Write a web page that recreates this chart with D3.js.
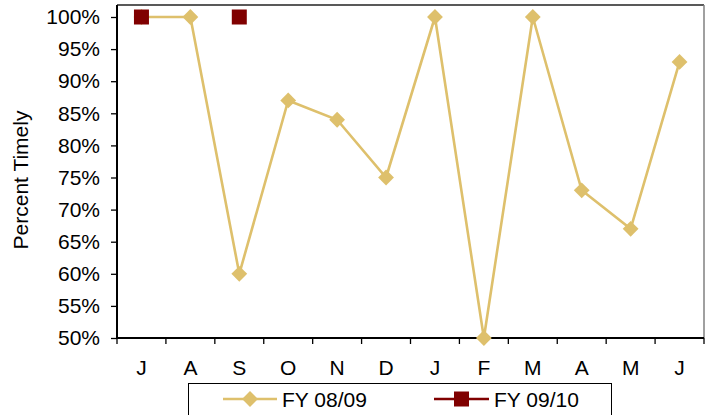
<!DOCTYPE html>
<html><head><meta charset="utf-8">
<script src="https://cdn.jsdelivr.net/npm/d3@7"></script>
<style>body{margin:0;background:#fff}svg{display:block;font-family:Arial,"Liberation Sans",sans-serif}</style>
</head><body><svg id="c" width="710" height="415"></svg>
<script>
const months = ["J","A","S","O","N","D","J","F","M","A","M","J"];
const fy0809 = [100,100,60,87,84,75,100,50,100,73,67,93];
const fy0910 = [100,null,100,null,null,null,null,null,null,null,null,null];
const yTicks = [50,55,60,65,70,75,80,85,90,95,100];
const seriesNames = ["FY 08/09","FY 09/10"];
const colors = ["#DEC06C","#800000"];
const FS = 21;

const svg = d3.select("#c");
const L=117, R=704, T=5, B=338;
const x = d3.scaleBand().domain(d3.range(months.length)).range([L,R]);
const y = d3.scaleLinear().domain([50,100]).range([B,17]);

// frame
svg.append("line").attr("x1",L).attr("x2",R).attr("y1",T).attr("y2",T).attr("stroke","#222").attr("stroke-width",1.5);
svg.append("line").attr("x1",R).attr("x2",R).attr("y1",T).attr("y2",B).attr("stroke","#808080").attr("stroke-width",1.5);

const yAxis = svg.append("g").attr("transform",`translate(${L},0)`)
  .call(d3.axisLeft(y).tickValues(yTicks).tickSize(6).tickPadding(11).tickFormat(d=>d+"%"));
yAxis.select(".domain").attr("stroke","#000").attr("stroke-width",2).attr("d",`M0,${T}V${B}`);
yAxis.selectAll(".tick line").attr("stroke","#000").attr("stroke-width",1.3);
yAxis.selectAll("text").attr("font-size",FS).attr("fill","#000").attr("font-family","Arial, Liberation Sans, sans-serif");

const xAxis = svg.append("g").attr("transform",`translate(0,${B})`)
  .call(d3.axisBottom(x).tickFormat(i=>months[i]).tickSize(0).tickPadding(22));
xAxis.select(".domain").attr("stroke","#000").attr("stroke-width",2).attr("d",`M${L},0H${R}`);
xAxis.selectAll("text").attr("font-size",FS).attr("fill","#000").attr("font-family","Arial, Liberation Sans, sans-serif");
// category boundary ticks
svg.append("g").selectAll("line").data(d3.range(months.length+1)).join("line")
  .attr("x1",i=>L+i*x.step()).attr("x2",i=>L+i*x.step())
  .attr("y1",B).attr("y2",B+6).attr("stroke","#000").attr("stroke-width",1.3);

// axis title
svg.append("text").attr("transform","translate(28,180) rotate(-90)").attr("text-anchor","middle")
  .attr("font-size",FS).attr("fill","#000").text("Percent Timely");

const cx = i => x(i)+x.bandwidth()/2;
const line = d3.line().defined(d=>d!=null).x((d,i)=>cx(i)).y(d=>y(d));
svg.append("path").datum(fy0809).attr("d",line).attr("fill","none").attr("stroke",colors[0]).attr("stroke-width",2.6);
svg.append("path").datum(fy0910).attr("d",line).attr("fill","none").attr("stroke",colors[1]).attr("stroke-width",2.6);

const diamond = d3.symbol().type(d3.symbolSquare).size(125);
svg.append("g").selectAll("path").data(fy0809.map((v,i)=>({v,i})).filter(d=>d.v!=null)).join("path")
  .attr("d",diamond).attr("fill",colors[0])
  .attr("transform",d=>`translate(${cx(d.i)},${y(d.v)}) rotate(45)`);
svg.append("g").selectAll("rect").data(fy0910.map((v,i)=>({v,i})).filter(d=>d.v!=null)).join("rect")
  .attr("x",d=>cx(d.i)-7.5).attr("y",d=>y(d.v)-7.5).attr("width",15).attr("height",15).attr("fill",colors[1]);

// legend
const lg = svg.append("g");
lg.append("rect").attr("x",188.5).attr("y",383.5).attr("width",423).attr("height",32).attr("fill","#fff").attr("stroke","#000").attr("stroke-width",1);
const items=[{x1:223,x2:277,tx:282},{x1:434,x2:489,tx:494}];
items.forEach((it,k)=>{
  const ly=399, mx=(it.x1+it.x2)/2;
  lg.append("line").attr("x1",it.x1).attr("x2",it.x2).attr("y1",ly).attr("y2",ly).attr("stroke",colors[k]).attr("stroke-width",2.6);
  if(k===0) lg.append("path").attr("d",diamond).attr("fill",colors[0]).attr("transform",`translate(${mx},${ly}) rotate(45)`);
  else lg.append("rect").attr("x",mx-7.5).attr("y",ly-7.5).attr("width",15).attr("height",15).attr("fill",colors[1]);
  lg.append("text").attr("x",it.tx).attr("y",ly+7.5).attr("font-size",FS).attr("fill","#000").text(seriesNames[k]);
});
</script></body></html>
